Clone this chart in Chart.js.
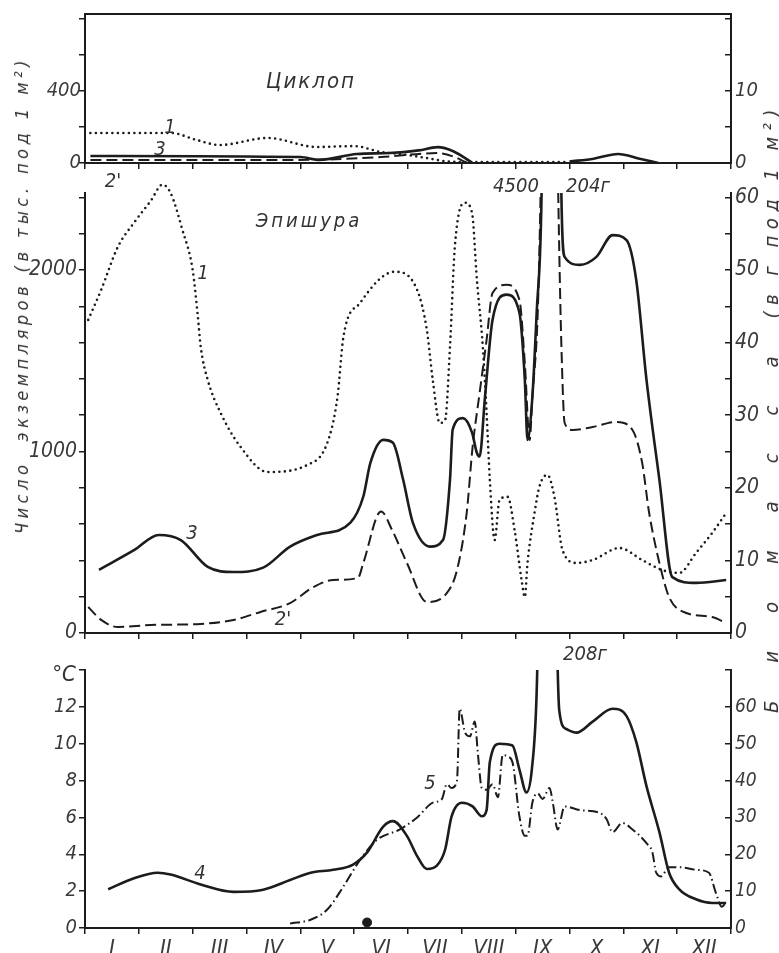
<!DOCTYPE html>
<html>
<head>
<meta charset="utf-8">
<script src="https://cdn.jsdelivr.net/npm/chart.js@4.4.0/dist/chart.umd.min.js"></script>
<style>
	body { margin: 0; background: #fff; }
	#figure { position: relative; width: 779px; height: 953px; overflow: hidden; background: #fff;
		font-family: 'Liberation Sans Narrow', 'DejaVu Sans Condensed', sans-serif; font-style: italic; color: #333; }
	#figure canvas { position: absolute; left: 0; top: 0; }
	.t { position: absolute; white-space: nowrap; transform: translate(-50%, -50%); font-size: 20px; line-height: 1; }
	.v { position: absolute; white-space: nowrap; transform: translate(-50%, -50%) rotate(-90deg); line-height: 1; }
</style>
</head>
<body>
<div id="figure">
	<canvas id="cyclops" width="779" height="953"></canvas>
	<canvas id="epishura" width="779" height="953"></canvas>
	<canvas id="climate" width="779" height="953"></canvas>

	<div class="v" style="left:22px;top:295px;font-size:18px;letter-spacing:4.5px">Число&nbsp;&nbsp;экземпляров&nbsp;(в тыс. под 1 м²)</div>
	<div class="v" style="left:771px;top:408px;font-size:20px"><span style="letter-spacing:38px">Биомасса</span><span style="letter-spacing:6.5px">(в г под 1 м²)</span></div>

	<div class="t" style="left:311px;top:81px;font-size:22px;letter-spacing:2px">Циклоп</div>
	<div class="t" style="left:309px;top:220px;letter-spacing:3px">Эпишура</div>
	<div class="t" style="left:516px;top:185px">4500</div>
	<div class="t" style="left:588px;top:185px">204г</div>
	<div class="t" style="left:585px;top:653px">208г</div>
	<div class="t" style="left:64px;top:674px;font-size:22px">°C</div>

	<div class="t" style="left:170px;top:126px">1</div>
	<div class="t" style="left:160px;top:148px">3</div>
	<div class="t" style="left:113px;top:180px">2'</div>
	<div class="t" style="left:203px;top:272px">1</div>
	<div class="t" style="left:192px;top:532px">3</div>
	<div class="t" style="left:283px;top:618px">2'</div>
	<div class="t" style="left:200px;top:872px">4</div>
	<div class="t" style="left:430px;top:782px">5</div>
</div>
<script>
const MONTHS = ['I', 'II', 'III', 'IV', 'V', 'VI', 'VII', 'VIII', 'IX', 'X', 'XI', 'XII'];

// Циклоп: 1 - число (тыс. под 1 м²), 2' - число, 3 - биомасса (г под 1 м²)
const cycDotMonths = [0.1, 1.6, 2.05, 2.5, 3.4, 4.3, 5.0, 5.5, 5.85, 6.3, 6.7, 7.15, 8.95];
const cycDotCount = [167, 167, 130, 100, 139, 89, 94, 61, 50, 30, 10, 5, 5];
const cycDashMonths = [0.1, 3.75, 4.55, 5.5, 6.55, 6.85, 7.1];
const cycDashCount = [17, 17, 20, 33, 55, 35, 0];
const cycSolidMonths = [0.1, 4.0, 4.35, 5.05, 5.65, 6.2, 6.55, 6.85, 7.2, 8.0, 9.0, 9.45, 9.9, 10.3, 10.65];
const cycSolidMass = [0.98, 0.83, 0.43, 1.25, 1.38, 1.75, 2.2, 1.6, 0, null, 0.2, 0.6, 1.25, 0.6, 0];

// Эпишура
const epiDotMonths = [0.06, 0.3, 0.61, 0.91, 1.22, 1.44, 1.59, 1.81, 2.0, 2.09, 2.15, 2.28, 2.52, 2.89, 3.39, 4.13, 4.5, 4.69, 4.8, 5.11,
	5.75, 6.17, 6.35, 6.46, 6.59, 6.69, 6.78, 6.87, 7.06, 7.19, 7.28, 7.39, 7.46, 7.52, 7.61, 7.7, 7.85, 7.98, 8.11, 8.17,
	8.22, 8.35, 8.44, 8.59, 8.72, 8.87, 9.13, 9.43, 9.93, 10.35, 10.72, 11.04, 11.35, 11.65, 11.91];
const epiDotCount = [1725, 1890, 2127, 2260, 2380, 2470, 2424, 2220, 2000, 1763, 1576, 1394, 1212, 1025, 887, 926, 1047, 1300, 1631, 1818,
	1990, 1890, 1670, 1394, 1157, 1174, 1576, 2127, 2370, 2314, 1945, 1576, 1212, 843, 512, 733, 750, 567, 292, 198,
	386, 661, 805, 871, 750, 457, 386, 402, 468, 402, 347, 331, 441, 551, 661];
const epiDashMonths = [0.06, 0.3, 0.61, 1.22, 2.15, 2.76, 3.26, 3.81, 4.24, 4.61, 5.07, 5.17, 5.5, 5.7, 5.98, 6.35, 6.72, 6.91, 7.09, 7.2,
	7.33, 7.46, 7.57, 7.83, 8.07, 8.17, 8.26, 8.31, 8.41, 8.63, 8.85, 8.91, 9.06, 9.43, 9.87, 10.17, 10.35, 10.48, 10.67, 10.85,
	11.17, 11.65, 11.91];
const epiDashCount = [143, 72, 33, 44, 50, 72, 116, 165, 253, 292, 303, 386, 670, 570, 386, 171, 220, 347, 661, 1025,
	1322, 1615, 1873, 1918, 1835, 1488, 1063, 1300, 1763, 4500, 1576, 1157, 1118, 1135, 1163, 1118, 937, 661, 386, 198,
	110, 88, 55];
const epiSolidMonths = [0.26, 0.91, 1.37, 1.78, 2.28, 2.76, 3.31, 3.81, 4.31, 4.93, 5.17, 5.3, 5.54, 5.72, 5.91, 6.09, 6.41, 6.65, 6.78, 6.83,
	7.02, 7.19, 7.28, 7.33, 7.43, 7.57, 7.83, 8.07, 8.17, 8.22, 8.31, 8.39, 8.48, 8.7, 8.85, 8.91, 9.19, 9.5, 9.8, 10.06,
	10.24, 10.43, 10.67, 10.91, 11.35, 11.91];
const epiSolidMass = [8.7, 11.4, 13.5, 12.8, 9.1, 8.4, 9.0, 11.9, 13.5, 15.2, 18.8, 23.4, 26.6, 26.2, 21.1, 15.2, 11.9, 12.8, 21.1, 28.0,
	29.6, 27.6, 24.8, 24.3, 32.5, 43.1, 46.6, 44.1, 34.9, 26.6, 32.5, 44.1, 60, 204, 60, 51.8, 50.7, 51.8, 54.8, 54.1,
	48.6, 34.9, 21.1, 7.7, 6.9, 7.3];

// нижняя панель: 4 - биомасса (г), 5 - температура (°C)
const massMonths = [0.43, 0.91, 1.35, 1.59, 2.15, 2.76, 3.31, 3.81, 4.19, 4.61, 4.98, 5.24, 5.54, 5.72, 5.98, 6.17, 6.35, 6.54, 6.69, 6.81,
	7.0, 7.2, 7.37, 7.46, 7.52, 7.7, 7.94, 8.07, 8.2, 8.3, 8.39, 8.59, 8.81, 8.94, 9.13, 9.43, 9.8, 10.06, 10.24, 10.43,
	10.67, 10.85, 11.04, 11.35, 11.65, 11.91];
const massValues = [10.5, 13.5, 15, 14.5, 11.8, 9.8, 10.4, 13, 15, 15.8, 17.2, 20.5, 27.5, 29, 25, 19.5, 16, 17, 21.3, 30.3,
	34, 33, 30.3, 32, 45, 50, 49.5, 43, 36.8, 43, 64, 208, 59, 54, 53, 56, 59.5, 57.5, 50.5, 38.5,
	26, 15, 10.5, 7.8, 6.8, 6.8];
const tempMonths = [3.81, 4.19, 4.5, 4.8, 5.11, 5.43, 5.85, 6.17, 6.46, 6.63, 6.72, 6.81, 6.91, 6.96, 7.06, 7.15, 7.24, 7.3, 7.37, 7.46,
	7.57, 7.67, 7.76, 7.85, 7.94, 8.07, 8.17, 8.22, 8.31, 8.41, 8.5, 8.63, 8.69, 8.78, 8.91, 9.19, 9.56, 9.69, 9.8, 9.98,
	10.17, 10.43, 10.54, 10.61, 10.7, 10.85, 11.04, 11.35, 11.59, 11.72, 11.83, 11.91];
const tempValues = [0.25, 0.45, 1.0, 2.25, 3.7, 4.8, 5.35, 6.0, 6.8, 7.0, 7.8, 7.6, 8.0, 11.9, 10.6, 10.4, 11.2, 9.4, 7.6, 7.5,
	7.8, 7.1, 9.4, 9.3, 9.0, 6.05, 5.0, 5.0, 6.8, 7.3, 7.0, 7.6, 6.8, 5.35, 6.6, 6.4, 6.25, 5.9, 5.2, 5.7,
	5.35, 4.6, 4.1, 3.0, 2.8, 3.3, 3.3, 3.16, 3.0, 1.9, 1.15, 1.4];
const iceMonths = [5.24];
const iceTemp = [0.3];

// axis ticks
const cycCountTicks = [0, 200, 400, 600, 800];
const cycCountLabels = [0, 400];
const cycMassTicks = [0, 5, 10, 15, 20];
const cycMassLabels = [0, 10];
const epiCountTicks = [0, 200, 400, 600, 800, 1000, 1200, 1400, 1600, 1800, 2000, 2200, 2400];
const epiCountLabels = [0, 1000, 2000];
const epiMassTicks = [0, 5, 10, 15, 20, 25, 30, 35, 40, 45, 50, 55, 60];
const epiMassLabels = [0, 10, 20, 30, 40, 50, 60];
const tempTicks = [0, 2, 4, 6, 8, 10, 12, 14];
const tempLabels = [0, 2, 4, 6, 8, 10, 12];
const massTicks = [0, 10, 20, 30, 40, 50, 60, 70];
const massLabels = [0, 10, 20, 30, 40, 50, 60];

const INK = '#1c1c1c';
const TXT = '#3a3a3a';
const FONT = "'Liberation Sans Narrow', 'DejaVu Sans Condensed', sans-serif";
const LEFT_W = 80;
const RIGHT_W = 45;
const PLOT_LEFT = 85;
const PLOT_RIGHT = 731;

function pts(xs, ys) {
	return xs.map((x, i) => ({ x: x, y: ys[i] }));
}

const lineStyles = {
	dot: { borderDash: [0, 5.5], borderWidth: 2.6, borderCapStyle: 'round' },
	dash: { borderDash: [11, 5], borderWidth: 2 },
	solid: { borderWidth: 2.6 },
	dashDot: { borderDash: [10, 3.5, 1.5, 3.5], borderWidth: 2 }
};

function line(data, axis, style, extra) {
	return Object.assign({
		type: 'line',
		data: data,
		yAxisID: axis,
		borderColor: INK,
		pointRadius: 0,
		fill: false,
		spanGaps: false,
		cubicInterpolationMode: 'monotone'
	}, lineStyles[style], extra || {});
}

function yAxis(pos, max, tickValues, labelValues, size, pad) {
	const right = pos === 'right';
	return {
		type: 'linear',
		position: pos,
		min: 0,
		max: max,
		afterBuildTicks: (s) => { s.ticks = tickValues.map((v) => ({ value: v })); },
		afterFit: (s) => { s.width = right ? RIGHT_W : LEFT_W; s.paddingTop = 0; s.paddingBottom = 0; },
		border: { color: INK, width: 2 },
		grid: { drawOnChartArea: false, color: INK, lineWidth: 1.5, tickLength: right ? -6 : 6 },
		ticks: {
			color: TXT,
			padding: pad,
			font: { family: FONT, size: size, style: 'italic' },
			callback: (v) => (labelValues.includes(v) ? String(v) : '')
		}
	};
}

function monthAxis(withLabels, height) {
	const values = [];
	for (let i = 0; i <= 12; i++) {
		values.push(i);
		if (withLabels && i < 12) values.push(i + 0.5);
	}
	return {
		type: 'linear',
		position: 'bottom',
		min: 0,
		max: 12,
		afterBuildTicks: (s) => { s.ticks = values.map((v) => ({ value: v })); },
		afterFit: (s) => { s.height = height; s.paddingLeft = 0; s.paddingRight = 0; },
		border: { color: INK, width: 2 },
		grid: {
			drawOnChartArea: false,
			lineWidth: 1.5,
			tickLength: 6,
			tickColor: (ctx) => (ctx.tick && ctx.tick.value % 1 !== 0 ? 'rgba(0,0,0,0)' : INK)
		},
		ticks: {
			display: withLabels,
			autoSkip: false,
			maxRotation: 0,
			padding: 2,
			color: TXT,
			font: { family: FONT, size: 22, style: 'italic' },
			callback: (v) => (v % 1 !== 0 ? MONTHS[Math.floor(v)] : '')
		}
	};
}

function makeChart(id, area, xHeight, datasets, scales) {
	return new Chart(document.getElementById(id), {
		type: 'line',
		data: { datasets: datasets },
		options: {
			responsive: false,
			animation: false,
			events: [],
			layout: {
				padding: {
					left: area.left - LEFT_W,
					right: 779 - area.right - RIGHT_W,
					top: area.top,
					bottom: 953 - area.bottom - xHeight
				}
			},
			plugins: { legend: { display: false }, tooltip: { enabled: false } },
			scales: scales
		}
	});
}

makeChart('cyclops', { left: PLOT_LEFT, right: PLOT_RIGHT, top: 14, bottom: 163 }, 10, [
	line(pts(cycDotMonths, cycDotCount), 'count', 'dot'),
	line(pts(cycDashMonths, cycDashCount), 'count', 'dash'),
	line(pts(cycSolidMonths, cycSolidMass), 'mass', 'solid')
], {
	x: monthAxis(false, 10),
	xTop: {
		type: 'linear', position: 'top', min: 0, max: 12,
		afterFit: (s) => { s.height = 0; },
		grid: { display: false }, ticks: { display: false },
		border: { color: INK, width: 2 }
	},
	count: yAxis('left', 828, cycCountTicks, cycCountLabels, 20, -2),
	mass: yAxis('right', 20.7, cycMassTicks, cycMassLabels, 20, 10)
});

makeChart('epishura', { left: PLOT_LEFT, right: PLOT_RIGHT, top: 193, bottom: 633 }, 10, [
	line(pts(epiDotMonths, epiDotCount), 'count', 'dot', { clip: { left: 4, top: 14, right: 4, bottom: 4 } }),
	line(pts(epiDashMonths, epiDashCount), 'count', 'dash'),
	line(pts(epiSolidMonths, epiSolidMass), 'mass', 'solid')
], {
	x: monthAxis(false, 10),
	count: yAxis('left', 2424, epiCountTicks, epiCountLabels, 21, 2),
	mass: yAxis('right', 60.6, epiMassTicks, epiMassLabels, 21, 10)
});

makeChart('climate', { left: PLOT_LEFT, right: PLOT_RIGHT, top: 670, bottom: 928 }, 25, [
	line(pts(massMonths, massValues), 'mass', 'solid'),
	line(pts(tempMonths, tempValues), 'temp', 'dashDot'),
	{
		type: 'scatter',
		data: pts(iceMonths, iceTemp),
		yAxisID: 'temp',
		pointRadius: 4.5,
		backgroundColor: INK,
		borderColor: INK,
		clip: 8
	}
], {
	x: monthAxis(true, 25),
	temp: yAxis('left', 14, tempTicks, tempLabels, 20, 2),
	mass: yAxis('right', 70, massTicks, massLabels, 19, 10)
});
</script>
</body>
</html>
